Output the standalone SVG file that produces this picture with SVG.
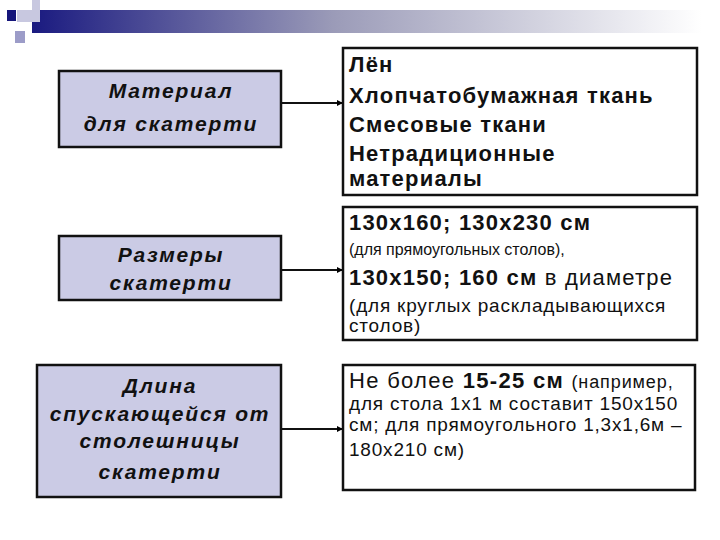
<svg xmlns="http://www.w3.org/2000/svg" width="720" height="540" viewBox="0 0 720 540">
<defs>
<linearGradient id="bar" x1="0" y1="0" x2="1" y2="0">
<stop offset="0" stop-color="#1a1a80"/>
<stop offset="0.45" stop-color="#9b9bb8"/>
<stop offset="1" stop-color="#ffffff"/>
</linearGradient>
<marker id="ah" markerWidth="6" markerHeight="6" refX="6" refY="3" orient="auto" markerUnits="userSpaceOnUse">
<path d="M0,0 L6,3 L0,6 z" fill="#000"/>
</marker>
<style>
.lbox{fill:#cbcbe5;stroke:#111;stroke-width:2.5}
.rbox{fill:#fff;stroke:#111;stroke-width:2.5}
.lt{font-family:"Liberation Sans",Arial,sans-serif;font-size:21px;font-weight:bold;font-style:italic;fill:#111;text-anchor:middle;letter-spacing:1.8px}
.rb{font-family:"Liberation Sans",Arial,sans-serif;font-size:22px;font-weight:bold;fill:#111;letter-spacing:1.2px}
.rs{font-family:"Liberation Sans",Arial,sans-serif;font-size:16px;fill:#111}
.rr{font-family:"Liberation Sans",Arial,sans-serif;font-size:19px;fill:#111;letter-spacing:0.8px}
.rm{font-family:"Liberation Sans",Arial,sans-serif;font-size:22px;fill:#111;letter-spacing:1.3px}
.conn{stroke:#111;stroke-width:2;fill:none;marker-end:url(#ah)}
</style>
</defs>
<g id="header">
<rect x="32" y="10" width="670" height="23" fill="url(#bar)"/>
<rect x="17" y="10" width="22" height="12" fill="#c8c8e0"/>
<rect x="32" y="0" width="8" height="22" fill="#c8c8e0"/>
<rect x="15" y="31" width="10" height="12" fill="#9c9cc8"/>
<rect x="7" y="10" width="9" height="11" fill="#15157a"/>
</g>
<g id="connectors">
<line class="conn" x1="281" y1="103" x2="343" y2="103"/>
<line class="conn" x1="282" y1="270" x2="343" y2="270"/>
<line class="conn" x1="282" y1="429" x2="343" y2="429"/>
</g>
<g id="material">
<rect class="lbox" x="59" y="71" width="222" height="76"/>
<text class="lt" x="171" y="98">Материал</text>
<text class="lt" x="171" y="131">для скатерти</text>
</g>
<g id="material-list">
<rect class="rbox" x="343" y="48" width="354" height="147"/>
<text class="rb" x="349" y="72">Лён</text>
<text class="rb" x="349" y="103">Хлопчатобумажная ткань</text>
<text class="rb" x="349" y="132">Смесовые ткани</text>
<text class="rb" x="349" y="161">Нетрадиционные</text>
<text class="rb" x="349" y="186">материалы</text>
</g>
<g id="sizes">
<rect class="lbox" x="59" y="236" width="222" height="64"/>
<text class="lt" x="171" y="262">Размеры</text>
<text class="lt" x="171" y="290">скатерти</text>
</g>
<g id="sizes-list">
<rect class="rbox" x="343" y="207" width="354" height="133"/>
<text class="rb" x="349" y="230" letter-spacing="1">130x160; 130x230 см</text>
<text class="rs" x="349" y="255">(для прямоугольных столов),</text>
<text class="rb" x="349" y="285" letter-spacing="1">130x150; 160 см <tspan font-weight="normal">в диаметре</tspan></text>
<text class="rr" x="349" y="312">(для круглых раскладывающихся</text>
<text class="rr" x="349" y="332">столов)</text>
</g>
<g id="length">
<rect class="lbox" x="37" y="365" width="244" height="132"/>
<text class="lt" x="160" y="393">Длина</text>
<text class="lt" x="160" y="421">спускающейся от</text>
<text class="lt" x="160" y="448">столешницы</text>
<text class="lt" x="160" y="479">скатерти</text>
</g>
<g id="length-text">
<rect class="rbox" x="343" y="365" width="352" height="125"/>
<text class="rm" x="349" y="388">Не более <tspan font-weight="bold">15-25 см</tspan> <tspan font-size="18" letter-spacing="0.9">(например,</tspan></text>
<text class="rr" x="349" y="410" letter-spacing="0.6">для стола 1x1 м составит 150x150</text>
<text class="rr" x="349" y="431" letter-spacing="0.6">см; для прямоугольного 1,3x1,6м –</text>
<text class="rr" x="349" y="456">180x210 см)</text>
</g>
</svg>
